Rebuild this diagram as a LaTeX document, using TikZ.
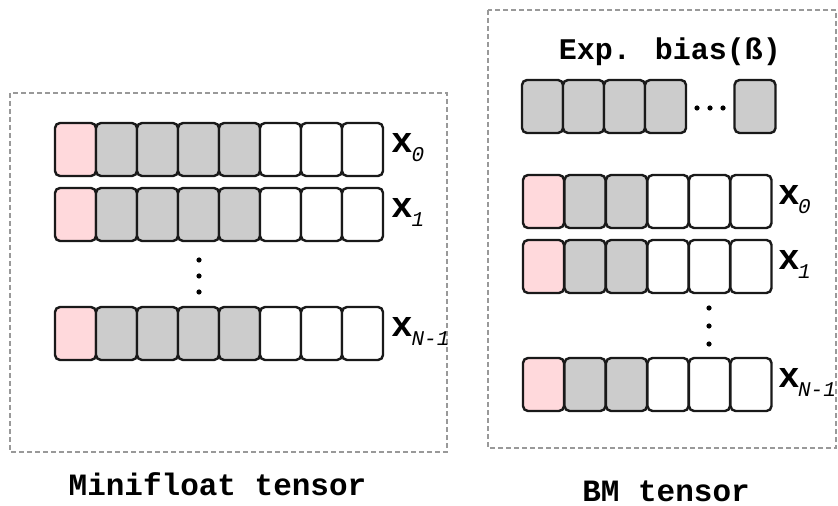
\documentclass[tikz,border=0pt]{standalone}
\usepackage{fontspec}
\newfontfamily\cour{Liberation Mono}
\definecolor{signpink}{HTML}{FFD9DC}
\definecolor{expgray}{HTML}{CCCCCC}
\begin{document}
\begin{tikzpicture}[x=0.5pt,y=-0.5pt]
	\tikzstyle{cell}=[rectangle,rounded corners=2.5pt,line width=1.2pt,draw=black!90,fill=white,minimum width=20.5pt,minimum height=26.5pt,inner sep=0pt]
	\tikzstyle{sign}=[cell,fill=signpink]
	\tikzstyle{expo}=[cell,fill=expgray]
	\tikzstyle{frame}=[draw=black!40,line width=0.8pt,dash pattern=on 2.5pt off 1.5pt]
	\tikzstyle{vdot}=[circle,fill=black,inner sep=0pt,minimum size=2.6pt]
	\tikzstyle{elem}=[anchor=base west,inner sep=0pt,font=\cour\bfseries\fontsize{18}{18}\selectfont]
	\tikzstyle{title}=[inner sep=0pt,font=\cour\bfseries\fontsize{15.5}{16}\selectfont]
	\useasboundingbox (0,0) rectangle (838,506);
	% minifloat tensor
	\begin{scope}
		\draw[frame] (10,93) rectangle (447,452);
		\foreach \r/\y/\sub in {0/149.5/0,1/214.5/1,2/333.5/N-1} {
			\node [sign] (m\r-1) at (75.5,\y) {};
			\foreach \c in {2,...,5} \node [expo] (m\r-\c) at (75.5+41*\c-41,\y) {};
			\foreach \c in {6,...,8} \node [cell] (m\r-\c) at (75.5+41*\c-41,\y) {};
			\node [elem] (mx\r) at ([xshift=3.5pt,yshift=-1.75pt]m\r-8.east) {x\kern-0.8pt\raisebox{-4.5pt}{\fontsize{10.5}{11}\selectfont\mdseries\itshape\sub}};
		}
		\node [vdot] (md1) at (199,260) {};
		\node [vdot] (md2) at (199,276) {};
		\node [vdot] (md3) at (199,292) {};
		\node [title] (mtitle) at (217.5,484) {Minifloat tensor};
	\end{scope}
	% BM tensor
	\begin{scope}
		\draw[frame] (488,10) rectangle (836,448);
		\node [title,font=\cour\bfseries\fontsize{15}{16}\selectfont] (bias) at (670,52) {Exp. bias(ß)};
		\foreach \c in {1,...,4} \node [expo] (e\c) at (542.5+41*\c-41,106.5) {};
		\node [expo] (e5) at (755,106.5) {};
		\node [vdot] (ed1) at (697,108) {};
		\node [vdot] (ed2) at (710,108) {};
		\node [vdot] (ed3) at (723,108) {};
		\foreach \r/\y/\sub in {0/201.5/0,1/266.5/1,2/384.5/N-1} {
			\node [sign] (b\r-1) at (543.5,\y) {};
			\foreach \c in {2,3} \node [expo] (b\r-\c) at (543.5+41.5*\c-41.5,\y) {};
			\foreach \c in {4,...,6} \node [cell] (b\r-\c) at (543.5+41.5*\c-41.5,\y) {};
			\node [elem] (bx\r) at ([xshift=2.5pt,yshift=-1.75pt]b\r-6.east) {x\kern-0.8pt\raisebox{-4.5pt}{\fontsize{10.5}{11}\selectfont\mdseries\itshape\sub}};
		}
		\node [vdot] (bd1) at (709,308) {};
		\node [vdot] (bd2) at (709,326) {};
		\node [vdot] (bd3) at (709,344) {};
		\node [title] (btitle) at (666,491) {BM tensor};
	\end{scope}
\end{tikzpicture}
\end{document}
